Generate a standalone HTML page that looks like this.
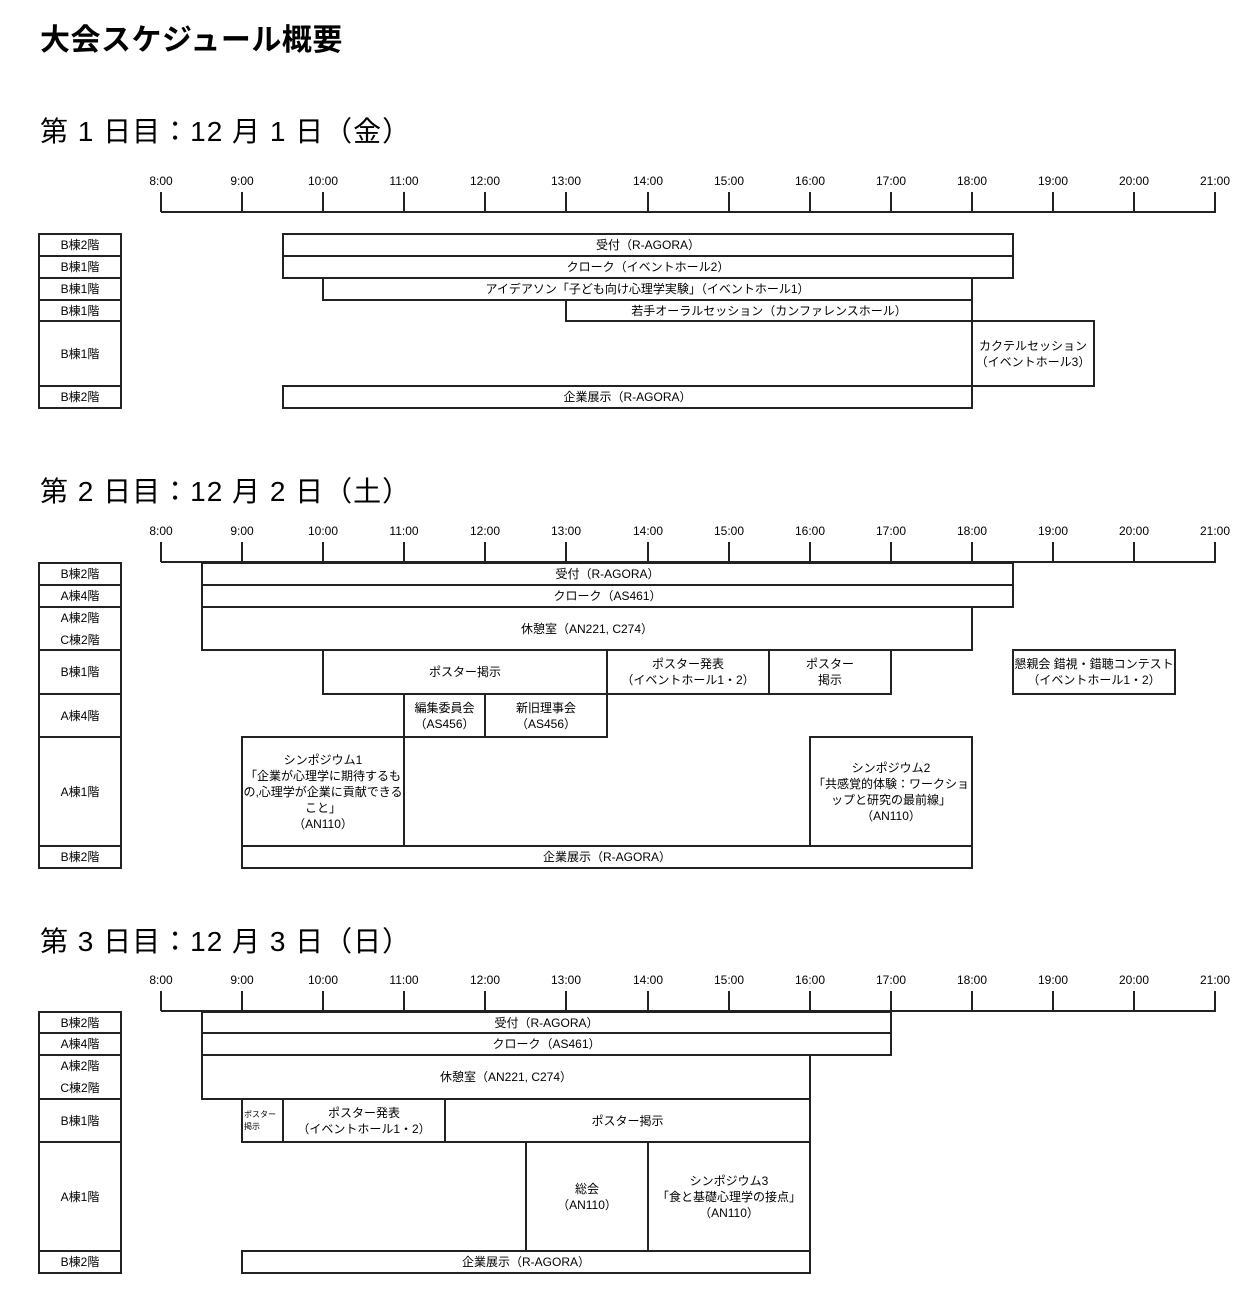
<!DOCTYPE html>
<html><head><meta charset="utf-8">
<style>
body{margin:0;width:1257px;height:1313px;background:#fff;position:relative;font-family:"Liberation Sans","Noto Sans CJK JP",sans-serif;color:#000;overflow:hidden}
.t{position:absolute;left:40px;font-size:28px;white-space:nowrap;line-height:32px;letter-spacing:1px}
.b{position:absolute;border:2px solid #222;box-sizing:border-box;display:flex;align-items:center;justify-content:center;text-align:center;font-size:12px;line-height:16px;background:transparent}
svg{position:absolute;left:0;top:0}
</style></head><body>
<div class="t" style="top:25px;font-weight:bold;font-size:30px;letter-spacing:0.5px">大会スケジュール概要</div>
<div class="t" style="top:116px">第 1 日目：12 月 1 日（金）</div>
<div class="t" style="top:476px">第 2 日目：12 月 2 日（土）</div>
<div class="t" style="top:926px">第 3 日目：12 月 3 日（日）</div>

<svg width="1257" height="1313" font-family="Liberation Sans, sans-serif" font-size="12" text-anchor="middle">
<g stroke="#222" stroke-width="2">
<line x1="161" y1="212" x2="1216" y2="212"/>
<line x1="161" y1="562" x2="1216" y2="562"/>
<line x1="161" y1="1011" x2="1216" y2="1011"/>
</g>
<g id="ticks" stroke="#222" stroke-width="2">
<path d="M161 192V212M242 192V212M323 192V212M404 192V212M485 192V212M566 192V212M648 192V212M729 192V212M810 192V212M891 192V212M972 192V212M1053 192V212M1134 192V212M1215 192V212"/>
<path d="M161 542V562M242 542V562M323 542V562M404 542V562M485 542V562M566 542V562M648 542V562M729 542V562M810 542V562M891 542V562M972 542V562M1053 542V562M1134 542V562M1215 542V562"/>
<path d="M161 991V1011M242 991V1011M323 991V1011M404 991V1011M485 991V1011M566 991V1011M648 991V1011M729 991V1011M810 991V1011M891 991V1011M972 991V1011M1053 991V1011M1134 991V1011M1215 991V1011"/>
</g>
<g>
<text x="161" y="185">8:00</text><text x="242" y="185">9:00</text><text x="323" y="185">10:00</text><text x="404" y="185">11:00</text><text x="485" y="185">12:00</text><text x="566" y="185">13:00</text><text x="648" y="185">14:00</text><text x="729" y="185">15:00</text><text x="810" y="185">16:00</text><text x="891" y="185">17:00</text><text x="972" y="185">18:00</text><text x="1053" y="185">19:00</text><text x="1134" y="185">20:00</text><text x="1215" y="185">21:00</text>
<text x="161" y="535">8:00</text><text x="242" y="535">9:00</text><text x="323" y="535">10:00</text><text x="404" y="535">11:00</text><text x="485" y="535">12:00</text><text x="566" y="535">13:00</text><text x="648" y="535">14:00</text><text x="729" y="535">15:00</text><text x="810" y="535">16:00</text><text x="891" y="535">17:00</text><text x="972" y="535">18:00</text><text x="1053" y="535">19:00</text><text x="1134" y="535">20:00</text><text x="1215" y="535">21:00</text>
<text x="161" y="984">8:00</text><text x="242" y="984">9:00</text><text x="323" y="984">10:00</text><text x="404" y="984">11:00</text><text x="485" y="984">12:00</text><text x="566" y="984">13:00</text><text x="648" y="984">14:00</text><text x="729" y="984">15:00</text><text x="810" y="984">16:00</text><text x="891" y="984">17:00</text><text x="972" y="984">18:00</text><text x="1053" y="984">19:00</text><text x="1134" y="984">20:00</text><text x="1215" y="984">21:00</text>
</g>
</svg>

<!-- Day 1 labels -->
<div class="b" style="left:38px;top:233px;width:84px;height:24px">B棟2階</div>
<div class="b" style="left:38px;top:255px;width:84px;height:24px">B棟1階</div>
<div class="b" style="left:38px;top:277px;width:84px;height:24px">B棟1階</div>
<div class="b" style="left:38px;top:299px;width:84px;height:23px">B棟1階</div>
<div class="b" style="left:38px;top:320px;width:84px;height:67px">B棟1階</div>
<div class="b" style="left:38px;top:385px;width:84px;height:24px">B棟2階</div>
<!-- Day 1 bars -->
<div class="b" style="left:282px;top:233px;width:732px;height:24px">受付（R-AGORA）</div>
<div class="b" style="left:282px;top:255px;width:732px;height:24px">クローク（イベントホール2）</div>
<div class="b" style="left:322px;top:277px;width:651px;height:24px">アイデアソン「子ども向け心理学実験」（イベントホール1）</div>
<div class="b" style="left:565px;top:299px;width:408px;height:23px">若手オーラルセッション（カンファレンスホール）</div>
<div class="b" style="left:971px;top:320px;width:124px;height:67px">カクテルセッション<br>（イベントホール3）</div>
<div class="b" style="left:282px;top:385px;width:691px;height:24px">企業展示（R-AGORA）</div>

<!-- Day 2 labels -->
<div class="b" style="left:38px;top:562px;width:84px;height:24px">B棟2階</div>
<div class="b" style="left:38px;top:584px;width:84px;height:24px">A棟4階</div>
<div class="b" style="left:38px;top:606px;width:84px;height:45px;line-height:22px">A棟2階<br>C棟2階</div>
<div class="b" style="left:38px;top:649px;width:84px;height:46px">B棟1階</div>
<div class="b" style="left:38px;top:693px;width:84px;height:45px">A棟4階</div>
<div class="b" style="left:38px;top:736px;width:84px;height:111px">A棟1階</div>
<div class="b" style="left:38px;top:845px;width:84px;height:24px">B棟2階</div>
<!-- Day 2 bars -->
<div class="b" style="left:201px;top:562px;width:813px;height:24px">受付（R-AGORA）</div>
<div class="b" style="left:201px;top:584px;width:813px;height:24px">クローク（AS461）</div>
<div class="b" style="left:201px;top:606px;width:772px;height:45px">休憩室（AN221, C274）</div>
<div class="b" style="left:322px;top:649px;width:286px;height:46px">ポスター掲示</div>
<div class="b" style="left:606px;top:649px;width:164px;height:46px">ポスター発表<br>（イベントホール1・2）</div>
<div class="b" style="left:768px;top:649px;width:124px;height:46px">ポスター<br>掲示</div>
<div class="b" style="left:1012px;top:649px;width:164px;height:46px">懇親会 錯視・錯聴コンテスト<br>（イベントホール1・2）</div>
<div class="b" style="left:403px;top:693px;width:83px;height:45px">編集委員会<br>（AS456）</div>
<div class="b" style="left:484px;top:693px;width:124px;height:45px">新旧理事会<br>（AS456）</div>
<div class="b" style="left:241px;top:736px;width:164px;height:111px">シンポジウム1<br>「企業が心理学に期待するもの,心理学が企業に貢献できること」<br>（AN110）</div>
<div class="b" style="left:809px;top:736px;width:164px;height:111px">シンポジウム2<br>「共感覚的体験：ワークショップと研究の最前線」<br>（AN110）</div>
<div class="b" style="left:241px;top:845px;width:732px;height:24px">企業展示（R-AGORA）</div>

<!-- Day 3 labels -->
<div class="b" style="left:38px;top:1011px;width:84px;height:23px">B棟2階</div>
<div class="b" style="left:38px;top:1032px;width:84px;height:24px">A棟4階</div>
<div class="b" style="left:38px;top:1054px;width:84px;height:46px;line-height:22px">A棟2階<br>C棟2階</div>
<div class="b" style="left:38px;top:1098px;width:84px;height:45px">B棟1階</div>
<div class="b" style="left:38px;top:1141px;width:84px;height:111px">A棟1階</div>
<div class="b" style="left:38px;top:1250px;width:84px;height:24px">B棟2階</div>
<!-- Day 3 bars -->
<div class="b" style="left:201px;top:1011px;width:691px;height:23px">受付（R-AGORA）</div>
<div class="b" style="left:201px;top:1032px;width:691px;height:24px">クローク（AS461）</div>
<div class="b" style="left:201px;top:1054px;width:610px;height:46px">休憩室（AN221, C274）</div>
<div class="b" style="left:241px;top:1098px;width:43px;height:45px;font-size:8px;line-height:12px;justify-content:flex-start;text-align:left;padding-left:1px">ポスター<br>掲示</div>
<div class="b" style="left:282px;top:1098px;width:164px;height:45px">ポスター発表<br>（イベントホール1・2）</div>
<div class="b" style="left:444px;top:1098px;width:367px;height:45px">ポスター掲示</div>
<div class="b" style="left:525px;top:1141px;width:124px;height:111px">総会<br>（AN110）</div>
<div class="b" style="left:647px;top:1141px;width:164px;height:111px">シンポジウム3<br>「食と基礎心理学の接点」<br>（AN110）</div>
<div class="b" style="left:241px;top:1250px;width:570px;height:24px">企業展示（R-AGORA）</div>
</body></html>
